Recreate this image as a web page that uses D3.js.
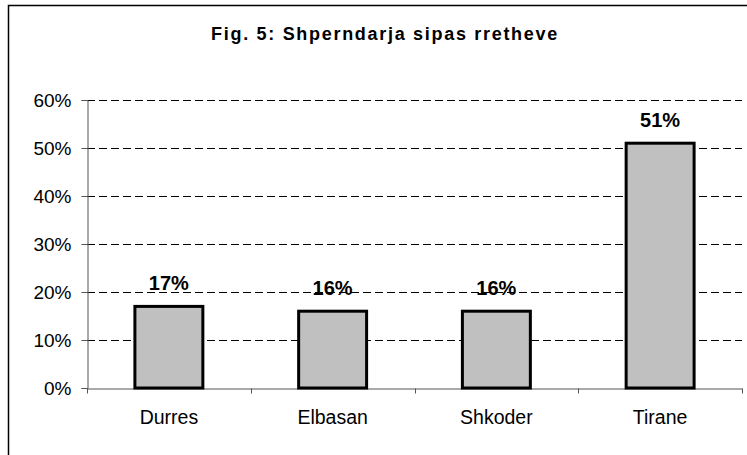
<!DOCTYPE html>
<html>
<head>
<meta charset="utf-8">
<script src="https://cdn.jsdelivr.net/npm/d3@7"></script>
<style>
    body { margin: 0; background: #fff; }
    svg { display: block; font-family: Arial, "Liberation Sans", sans-serif; }
</style>
</head>
<body>
<div id="chart"></div>
<script>
// data
const districts = ['Durres', 'Elbasan', 'Shkoder', 'Tirane'];
const shares = [0.17, 0.16, 0.16, 0.51];
const yTicks = [0, 0.1, 0.2, 0.3, 0.4, 0.5, 0.6];
const title = 'Fig. 5: Shperndarja sipas rretheve';

const width = 747, height = 455;
const plot = { left: 87, right: 742, top: 100, bottom: 388 };
const font = 'Arial, "Liberation Sans", sans-serif';

const svg = d3.select('#chart')
    .append('svg')
    .attr('width', width)
    .attr('height', height);

// outer chart frame (right and bottom edges fall outside the crop)
svg.append('rect')
    .attr('x', 8.5).attr('y', 5.5)
    .attr('width', 760).attr('height', 460)
    .attr('fill', 'none')
    .attr('stroke', '#000')
    .attr('stroke-width', 1.5);

svg.append('text')
    .attr('x', 385)
    .attr('y', 39.5)
    .attr('text-anchor', 'middle')
    .style('font-size', '18px')
    .style('font-weight', 'bold')
    .style('letter-spacing', '1.7px')
    .text(title);

const x = d3.scaleBand()
    .domain(districts)
    .range([plot.left, plot.right])
    .padding(0);

const y = d3.scaleLinear()
    .domain([0, 0.6])
    .range([plot.bottom, plot.top]);

// dashed gridlines
svg.append('g')
    .selectAll('line')
    .data(yTicks.filter(d => d > 0))
    .join('line')
    .attr('x1', plot.left)
    .attr('x2', plot.right)
    .attr('y1', d => Math.round(y(d)) + 0.5)
    .attr('y2', d => Math.round(y(d)) + 0.5)
    .attr('stroke', '#000')
    .attr('stroke-dasharray', '8,4');

// y axis
const yAxis = svg.append('g')
    .attr('transform', `translate(${plot.left + 0.5},0)`)
    .call(d3.axisLeft(y).tickValues(yTicks).tickFormat(d3.format('.0%')).tickSize(6).tickPadding(10));
yAxis.selectAll('line, path').attr('stroke', '#555');
yAxis.selectAll('text')
    .attr('fill', '#000')
    .style('font-size', '19px')
    .style('font-family', font);

// x axis: baseline, ticks at category boundaries, labels at centres
const xAxis = svg.append('g')
    .attr('transform', `translate(0,${Math.round(plot.bottom) + 0.5})`)
    .call(d3.axisBottom(x).tickSize(0).tickPadding(22));
xAxis.select('path').attr('stroke', '#555');
xAxis.selectAll('text')
    .attr('fill', '#000')
    .style('font-size', '19.5px')
    .style('font-family', font);

const bounds = districts.map(d => x(d)).concat([plot.right]);
xAxis.selectAll('.bound')
    .data(bounds)
    .join('line')
    .attr('class', 'bound')
    .attr('x1', d => Math.round(d) + 0.5)
    .attr('x2', d => Math.round(d) + 0.5)
    .attr('y1', 0)
    .attr('y2', 5)
    .attr('stroke', '#555');

// bars
const barW = x.bandwidth() * 0.415;
svg.append('g')
    .selectAll('rect')
    .data(districts)
    .join('rect')
    .attr('x', d => x(d) + (x.bandwidth() - barW) / 2)
    .attr('y', (d, i) => y(shares[i]))
    .attr('width', barW)
    .attr('height', (d, i) => y(0) - y(shares[i]))
    .attr('fill', '#c0c0c0')
    .attr('stroke', '#000')
    .attr('stroke-width', 3);

// value labels
svg.append('g')
    .selectAll('text')
    .data(districts)
    .join('text')
    .attr('x', d => x(d) + x.bandwidth() / 2)
    .attr('y', (d, i) => y(shares[i]) - 16)
    .attr('text-anchor', 'middle')
    .style('font-size', '20px')
    .style('font-weight', 'bold')
    .text((d, i) => d3.format('.0%')(shares[i]));
</script>
</body>
</html>
